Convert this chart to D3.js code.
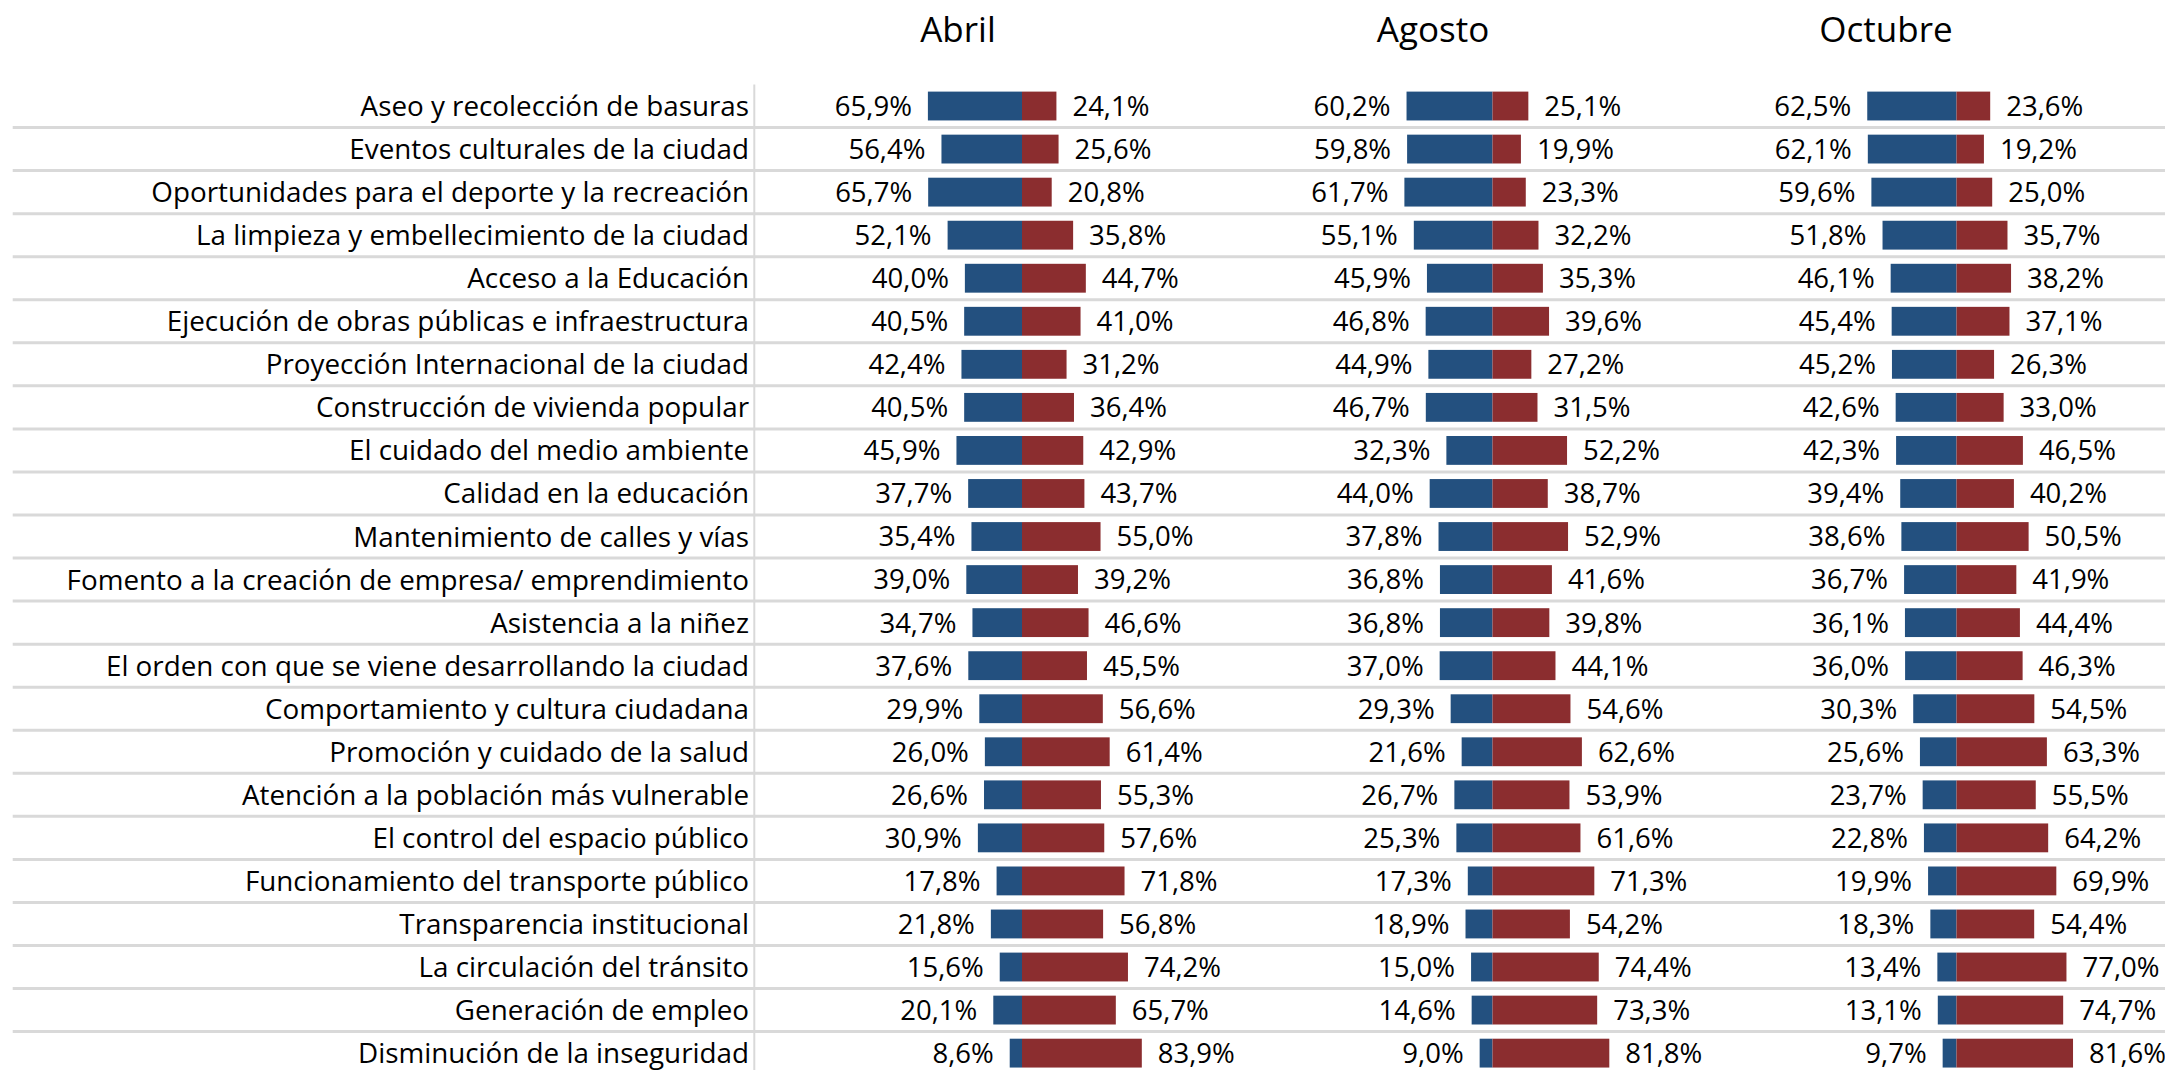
<!DOCTYPE html>
<html>
<head>
<meta charset="utf-8">
<script src="https://cdn.jsdelivr.net/npm/d3@7"></script>
<style>
    html, body { margin: 0; padding: 0; background: #fff; }
    svg { display: block; }
    text { font-family: "Open Sans", "Noto Sans", sans-serif; fill: #000; }
</style>
</head>
<body>
<div id="container"></div>
<script>
const WIDTH = 2165;
const HEIGHT = 1070;

// categorías (de arriba a abajo)
const categories = [
    "Aseo y recolección de basuras",
    "Eventos culturales de la ciudad",
    "Oportunidades para el deporte y la recreación",
    "La limpieza y embellecimiento de la ciudad",
    "Acceso a la Educación",
    "Ejecución de obras públicas e infraestructura",
    "Proyección Internacional de la ciudad",
    "Construcción de vivienda popular",
    "El cuidado del medio ambiente",
    "Calidad en la educación",
    "Mantenimiento de calles y vías",
    "Fomento a la creación de empresa/ emprendimiento",
    "Asistencia a la niñez",
    "El orden con que se viene desarrollando la ciudad",
    "Comportamiento y cultura ciudadana",
    "Promoción y cuidado de la salud",
    "Atención a la población más vulnerable",
    "El control del espacio público",
    "Funcionamiento del transporte público",
    "Transparencia institucional",
    "La circulación del tránsito",
    "Generación de empleo",
    "Disminución de la inseguridad"
];

const months = ["Abril", "Agosto", "Octubre"];

// favorable (azul, a la izquierda)
const abrilFav = [65.9, 56.4, 65.7, 52.1, 40.0, 40.5, 42.4, 40.5, 45.9, 37.7, 35.4, 39.0, 34.7, 37.6, 29.9, 26.0, 26.6, 30.9, 17.8, 21.8, 15.6, 20.1, 8.6];
const agostoFav = [60.2, 59.8, 61.7, 55.1, 45.9, 46.8, 44.9, 46.7, 32.3, 44.0, 37.8, 36.8, 36.8, 37.0, 29.3, 21.6, 26.7, 25.3, 17.3, 18.9, 15.0, 14.6, 9.0];
const octubreFav = [62.5, 62.1, 59.6, 51.8, 46.1, 45.4, 45.2, 42.6, 42.3, 39.4, 38.6, 36.7, 36.1, 36.0, 30.3, 25.6, 23.7, 22.8, 19.9, 18.3, 13.4, 13.1, 9.7];

// desfavorable (rojo, a la derecha)
const abrilDesf = [24.1, 25.6, 20.8, 35.8, 44.7, 41.0, 31.2, 36.4, 42.9, 43.7, 55.0, 39.2, 46.6, 45.5, 56.6, 61.4, 55.3, 57.6, 71.8, 56.8, 74.2, 65.7, 83.9];
const agostoDesf = [25.1, 19.9, 23.3, 32.2, 35.3, 39.6, 27.2, 31.5, 52.2, 38.7, 52.9, 41.6, 39.8, 44.1, 54.6, 62.6, 53.9, 61.6, 71.3, 54.2, 74.4, 73.3, 81.8];
const octubreDesf = [23.6, 19.2, 25.0, 35.7, 38.2, 37.1, 26.3, 33.0, 46.5, 40.2, 50.5, 41.9, 44.4, 46.3, 54.5, 63.3, 55.5, 64.2, 69.9, 54.4, 77.0, 74.7, 81.6];

const favorable = [abrilFav, agostoFav, octubreFav];
const desfavorable = [abrilDesf, agostoDesf, octubreDesf];

const BLUE = "#23507f";
const RED = "#8b2d2f";
const GRID = "#d9d9d9";

// posición del cero de cada panel y centro del título
const panelZero = [1022, 1492.5, 1956.5];
const titleX = [958, 1433, 1886];
const PX_PER_PCT = 1.428;

const LABEL_RIGHT = 749;
const AXIS_X = 754.3;
const TOP = 84.5;
const STEP = 43.05;

const fmt = d3.formatLocale({ decimal: ",", thousands: ".", grouping: [3], currency: ["", ""] }).format(".1f");

const svg = d3.select("#container")
    .append("svg")
    .attr("width", WIDTH)
    .attr("height", HEIGHT);

const y = d3.scaleBand()
    .domain(categories)
    .range([TOP, TOP + STEP * categories.length])
    .paddingInner(0.33)
    .paddingOuter(0.165);

// borde inferior de cada fila
const rowBottom = (d) => y(d) - y.paddingOuter() * y.step() + y.step();

// líneas separadoras entre filas
svg.append("g")
    .selectAll("line")
    .data(categories)
    .enter()
    .append("line")
    .attr("x1", 12.7)
    .attr("x2", WIDTH)
    .attr("y1", rowBottom)
    .attr("y2", rowBottom)
    .attr("stroke", GRID)
    .attr("stroke-width", 3);

// eje vertical
svg.append("line")
    .attr("x1", AXIS_X)
    .attr("x2", AXIS_X)
    .attr("y1", TOP)
    .attr("y2", HEIGHT)
    .attr("stroke", GRID)
    .attr("stroke-width", 2);

// etiquetas de categorías
svg.append("g")
    .selectAll("text")
    .data(categories)
    .enter()
    .append("text")
    .attr("x", LABEL_RIGHT)
    .attr("y", (d) => y(d) + y.bandwidth() / 2)
    .attr("dy", "0.36em")
    .attr("text-anchor", "end")
    .style("font-size", "27.8px")
    .text((d) => d);

// paneles
months.forEach((m, p) => {
    const zero = panelZero[p];
    const x = d3.scaleLinear()
        .domain([-100, 100])
        .range([zero - 100 * PX_PER_PCT, zero + 100 * PX_PER_PCT]);

    const g = svg.append("g").attr("class", "panel");

    g.append("text")
        .attr("x", titleX[p])
        .attr("y", 41.7)
        .attr("text-anchor", "middle")
        .style("font-size", "35px")
        .text(m);

    const rows = categories.map((c, i) => ({
        c,
        fav: favorable[p][i],
        desf: desfavorable[p][i]
    }));

    g.selectAll("rect.fav")
        .data(rows)
        .enter()
        .append("rect")
        .attr("class", "fav")
        .attr("x", (d) => x(-d.fav))
        .attr("width", (d) => x(0) - x(-d.fav))
        .attr("y", (d) => y(d.c))
        .attr("height", y.bandwidth())
        .attr("fill", BLUE);

    g.selectAll("rect.desf")
        .data(rows)
        .enter()
        .append("rect")
        .attr("class", "desf")
        .attr("x", x(0))
        .attr("width", (d) => x(d.desf) - x(0))
        .attr("y", (d) => y(d.c))
        .attr("height", y.bandwidth())
        .attr("fill", RED);

    g.selectAll("text.lfav")
        .data(rows)
        .enter()
        .append("text")
        .attr("class", "lfav")
        .attr("x", (d) => x(-d.fav) - 16)
        .attr("y", (d) => y(d.c) + y.bandwidth() / 2)
        .attr("dy", "0.36em")
        .attr("text-anchor", "end")
        .style("font-size", "27.5px")
        .text((d) => fmt(d.fav) + "%");

    g.selectAll("text.ldesf")
        .data(rows)
        .enter()
        .append("text")
        .attr("class", "ldesf")
        .attr("x", (d) => x(d.desf) + 16)
        .attr("y", (d) => y(d.c) + y.bandwidth() / 2)
        .attr("dy", "0.36em")
        .attr("text-anchor", "start")
        .style("font-size", "27.5px")
        .text((d) => fmt(d.desf) + "%");
});
</script>
</body>
</html>
